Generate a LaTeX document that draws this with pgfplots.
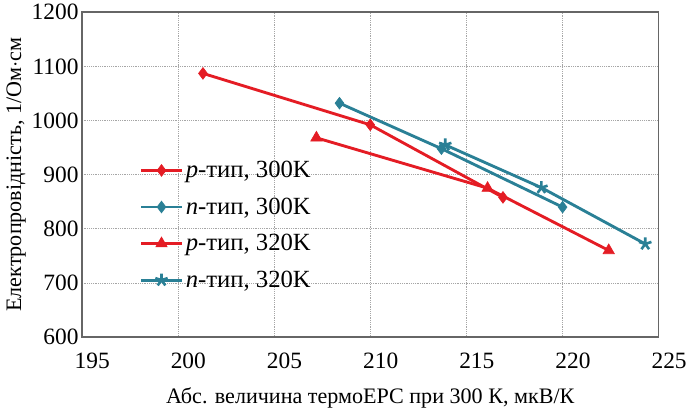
\documentclass[border=0pt]{standalone}
\usepackage{pgfplots}
\pgfplotsset{compat=1.18}
\usepackage{fontspec}
\setmainfont{Liberation Serif}
\definecolor{cred}{RGB}{228,28,36}
\definecolor{cteal}{RGB}{42,128,150}
\begin{document}
\begin{tikzpicture}
\begin{axis}[
  scale only axis,
  width=444pt, height=250pt,
  xmin=195, xmax=225, ymin=600, ymax=1200,
  xtick={195,200,...,225}, ytick={600,700,...,1200},
  grid=major,
  major grid style={gray!70, densely dotted, line width=0.6pt},
  axis line style={gray!80!black, line width=1.1pt},
  tick style={draw=none},
  /pgf/number format/assume math mode=true,
  /pgf/number format/1000 sep={},
  tick label style={font=\fontsize{18}{20}\selectfont},
  yticklabel style={xshift=1pt},
  xticklabel style={yshift=-9pt, xshift=8pt},
  label style={font=\fontsize{17}{19}\selectfont},
  xlabel={Абс. величина термоЕРС при 300 К, мкВ/К},
  ylabel={Електропровідність, 1/Ом$\cdot$см},
  xlabel style={yshift=-8pt, inner sep=3pt},
  ylabel style={yshift=-4pt, inner sep=5pt},
  legend style={at={(0.1,0.55)}, anchor=north west, draw=none, fill=none,
    font=\fontsize{19}{21}\selectfont, row sep=10pt, inner sep=0pt},
  legend cell align=left,
  legend image code/.code={
    \draw[#1, mark repeat=2, mark phase=2] plot coordinates {(0cm,0cm) (0.55cm,0cm) (1.1cm,0cm)};
  },
  every axis plot/.append style={line width=2.2pt},
]
\addplot[cred, mark=diamond*, mark size=4.5pt, mark options={solid, line width=0.5pt}]
  coordinates {(201.3,1087) (210.0,992) (216.9,858)};
\addlegendentry{\textit{p}-тип, 300K}
\addplot[cteal, mark=diamond*, mark size=4.5pt, mark options={solid, line width=0.5pt}]
  coordinates {(208.4,1032) (213.7,948) (220.0,840)};
\addlegendentry{\textit{n}-тип, 300K}
\addplot[cred, mark=triangle*, mark size=5pt, mark options={solid, line width=0.5pt}]
  coordinates {(207.2,968) (216.1,875) (222.4,760)};
\addlegendentry{\textit{p}-тип, 320K}
\addplot[cteal, mark=star, mark size=5pt, mark options={solid, line width=2pt}]
  coordinates {(213.9,955) (218.9,876) (224.3,772)};
\addlegendentry{\textit{n}-тип, 320K}
\end{axis}
\end{tikzpicture}
\end{document}
